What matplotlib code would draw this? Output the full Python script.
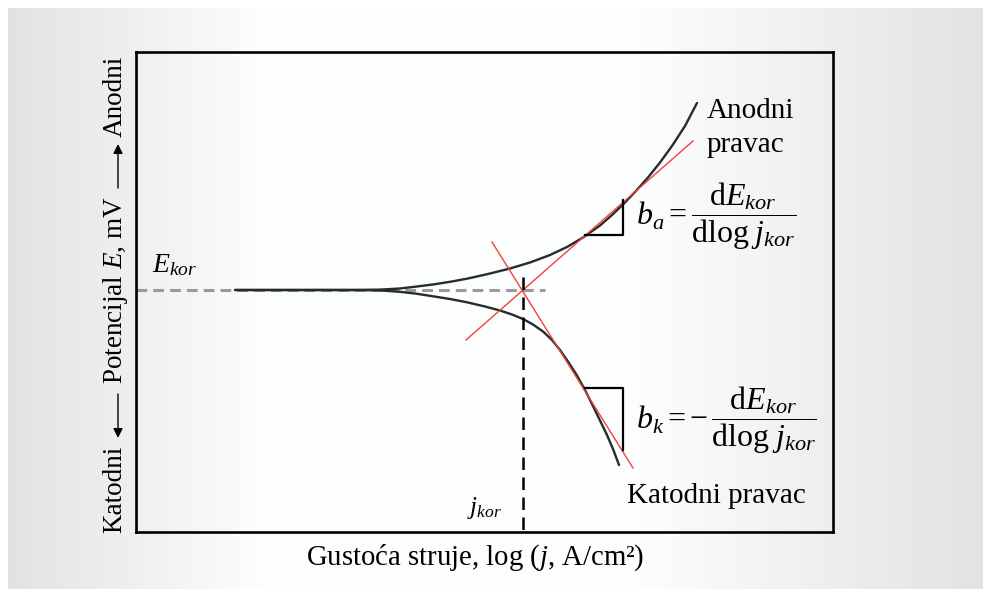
import matplotlib
matplotlib.use("Agg")
import matplotlib.pyplot as plt
import numpy as np

plt.rcParams["font.family"] = ["Liberation Serif", "DejaVu Serif"]
plt.rcParams["mathtext.fontset"] = "custom"
plt.rcParams["mathtext.rm"] = "Liberation Serif"
plt.rcParams["mathtext.it"] = "Liberation Serif:italic"
plt.rcParams["mathtext.bf"] = "Liberation Serif:bold"

# Polarisation curves in arbitrary units: x ~ log j, y ~ E - E_kor
anodic_x = [9.9, 16.4, 22.4, 24.4, 26.4, 28.1, 29.7, 31.4, 33.1, 35.2, 37.4, 39.4,
            41.4, 43.1, 44.7, 46.4, 47.6, 48.7, 49.9, 51.2, 52.4, 53.6, 54.9, 56.1]
anodic_y = [0.0, 0.0, 0.01, 0.04, 0.15, 0.35, 0.55, 0.82, 1.13, 1.6, 2.15, 2.75,
            3.5, 4.3, 5.25, 6.45, 7.5, 8.55, 9.8, 11.25, 12.75, 14.4, 16.4, 18.7]
cathodic_x = [9.9, 16.4, 22.4, 24.4, 26.4, 28.1, 29.7, 31.4, 33.1, 34.9, 36.4, 37.6,
              38.7, 39.7, 40.7, 41.6, 42.4, 43.2, 44.1, 44.9, 45.7, 46.4, 47.1, 47.7, 48.3]
cathodic_y = [0.0, 0.0, -0.01, -0.04, -0.18, -0.38, -0.63, -0.9, -1.23, -1.65, -2.05, -2.45,
              -2.9, -3.45, -4.15, -5.0, -6.0, -7.15, -8.55, -10.0, -11.6, -13.05, -14.5, -15.9, -17.5]

# Tafel lines (start, end)
tafel_a_x = [33.0, 55.7]
tafel_a_y = [-5.0, 14.9]
tafel_k_x = [35.6, 49.7]
tafel_k_y = [4.8, -17.8]

# corrosion point
j_kor = 38.7
e_kor = 0.0
ekor_line_x = [0.0, 40.9]
jkor_top = 1.3

# slope triangles
tri_a_x = [44.9, 48.7, 48.7]
tri_a_y = [5.5, 5.5, 9.0]
tri_k_x = [44.9, 48.7, 48.7]
tri_k_y = [-9.8, -9.8, -16.0]

XLIM = (0, 69.7)
YLIM = (-24.2, 23.8)

W, H = 983, 589
fig = plt.figure(figsize=(W / 100, H / 100), dpi=100)
fig.patch.set_facecolor("white")

# grey panel with soft horizontal gradient
bg = fig.add_axes([0, 0, 1, 1])
bg.set_xlim(0, W)
bg.set_ylim(H, 0)
bg.axis("off")
xs = np.arange(8, W)
g = np.interp(xs, [8, 260, 640, W], [0.885, 0.99, 0.99, 0.885])
grad = np.clip(np.dstack([g, g + 0.003, g + 0.006]), 0, 1)
bg.imshow(grad, extent=[8, W, H, 8], aspect="auto", interpolation="bilinear")

left, right, top, bottom = 136, 833, 52, 532
ax = fig.add_axes([left / W, 1 - bottom / H, (right - left) / W, (bottom - top) / H])
ax.set_facecolor("none")
ax.set_xlim(*XLIM)
ax.set_ylim(*YLIM)
ax.set_xticks([])
ax.set_yticks([])
for s in ax.spines.values():
    s.set_linewidth(1.9)
    s.set_color("black")

# E_kor dashed line and j_kor vertical line
ax.plot(ekor_line_x, [e_kor, e_kor], color="#9a9a9a", lw=2.2, ls=(0, (3.5, 2)), zorder=2)
ax.plot([j_kor, j_kor], [jkor_top, YLIM[0]], color="black", lw=1.8, ls=(0, (5, 3)), zorder=4)

# polarisation curves
ax.plot(anodic_x, anodic_y, color="#262b2c", lw=1.7, solid_capstyle="round", zorder=3)
ax.plot(cathodic_x, cathodic_y, color="#262b2c", lw=1.7, solid_capstyle="round", zorder=3)

# Tafel extrapolations
ax.plot(tafel_a_x, tafel_a_y, color="#f0433f", lw=1.0, zorder=3)
ax.plot(tafel_k_x, tafel_k_y, color="#f0433f", lw=1.0, zorder=3)

# slope triangles
ax.plot(tri_a_x, tri_a_y, color="black", lw=1.6, zorder=4)
ax.plot(tri_k_x, tri_k_y, color="black", lw=1.6, zorder=4)


def X(px):
    return (px - left) / 10


def Y(py):
    return (290 - py) / 10


FS = 21
ax.text(X(152), Y(272), r"$E_{kor}$", fontsize=20, ha="left", va="baseline")
ax.text(X(467), Y(514), r"$j_{kor}$", fontsize=18, ha="left", va="baseline")
ax.text(X(707), Y(118), "Anodni", fontsize=FS, ha="left", va="baseline")
ax.text(X(707), Y(152), "pravac", fontsize=FS, ha="left", va="baseline")
ax.text(X(627), Y(503), "Katodni pravac", fontsize=FS, ha="left", va="baseline")

ax.text(X(636), Y(216), r"$b_a=\dfrac{\mathrm{d}E_{kor}}{\mathrm{dlog}\;j_{kor}}$",
        fontsize=23, ha="left", va="center")
ax.text(X(636), Y(420), r"$b_k=-\,\dfrac{\mathrm{d}E_{kor}}{\mathrm{dlog}\;j_{kor}}$",
        fontsize=23, ha="left", va="center")

# axis titles
fig.text(475 / W, 1 - 565 / H, r"Gustoća struje, log ($j$, A/cm²)", fontsize=20.7,
         ha="center", va="baseline")

ycol = 115
YFS = 19.5
fig.text(ycol / W, 1 - 489 / H, "Katodni", fontsize=YFS, rotation=90, ha="center", va="center")
fig.text(ycol / W, 1 - 290 / H, r"Potencijal $E$, mV", fontsize=YFS, rotation=90,
         ha="center", va="center")
fig.text(ycol / W, 1 - 96 / H, "Anodni", fontsize=YFS, rotation=90, ha="center", va="center")
arrow = dict(arrowstyle="-|>", color="black", lw=1.0, mutation_scale=14, shrinkA=0, shrinkB=0)
ax.annotate("", xy=(ycol + 3, H - 438), xytext=(ycol + 3, H - 394),
            xycoords="figure pixels", textcoords="figure pixels", arrowprops=arrow)
ax.annotate("", xy=(ycol + 3, H - 144), xytext=(ycol + 3, H - 188),
            xycoords="figure pixels", textcoords="figure pixels", arrowprops=arrow)

fig.savefig("out.png", dpi=100)
